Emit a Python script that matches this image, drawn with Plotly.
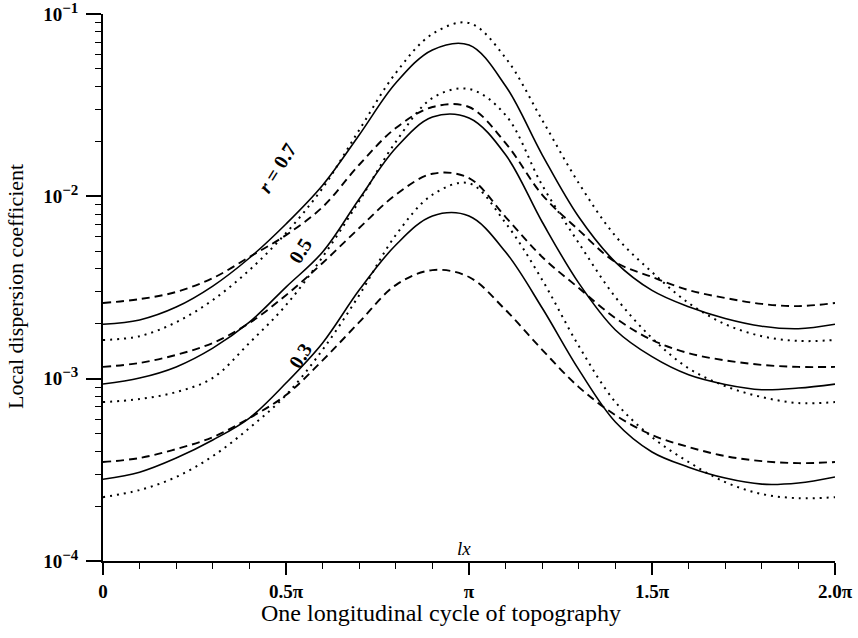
import numpy as np
import plotly.graph_objects as go

# x positions in units of pi (one longitudinal cycle)
x_pi = [0.0, 0.1, 0.2, 0.3, 0.4, 0.5, 0.6, 0.7, 0.8, 0.9, 1.0,
        1.1, 1.2, 1.3, 1.4, 1.5, 1.6, 1.7, 1.8, 1.9, 2.0]

# r = 0.7
r07_solid = [1.99e-3, 2.10e-3, 2.47e-3, 3.22e-3, 4.59e-3, 7.05e-3, 1.15e-2, 2.17e-2, 4.18e-2, 6.35e-2, 6.76e-2,
             4.03e-2, 1.69e-2, 7.70e-3, 4.36e-3, 3.05e-3, 2.48e-3, 2.14e-3, 1.94e-3, 1.88e-3, 1.99e-3]
r07_dotted = [1.63e-3, 1.71e-3, 2.04e-3, 2.70e-3, 3.94e-3, 6.29e-3, 1.11e-2, 2.31e-2, 4.75e-2, 7.77e-2, 8.93e-2,
              5.74e-2, 2.62e-2, 1.18e-2, 6.06e-3, 3.84e-3, 2.60e-3, 1.99e-3, 1.71e-3, 1.61e-3, 1.63e-3]
r07_dashed = [2.60e-3, 2.73e-3, 2.99e-3, 3.56e-3, 4.65e-3, 6.13e-3, 8.74e-3, 1.49e-2, 2.37e-2, 3.09e-2, 3.09e-2,
              1.96e-2, 1.02e-2, 6.53e-3, 4.36e-3, 3.61e-3, 3.06e-3, 2.77e-3, 2.57e-3, 2.50e-3, 2.60e-3]

# r = 0.5
r05_solid = [9.34e-4, 1.008e-3, 1.16e-3, 1.47e-3, 2.04e-3, 3.18e-3, 4.95e-3, 9.67e-3, 1.84e-2, 2.72e-2, 2.69e-2,
             1.69e-2, 7.23e-3, 3.34e-3, 1.85e-3, 1.32e-3, 1.05e-3, 9.30e-4, 8.70e-4, 8.88e-4, 9.34e-4]
r05_dotted = [7.44e-4, 7.73e-4, 8.44e-4, 1.01e-3, 1.57e-3, 2.53e-3, 4.65e-3, 9.42e-3, 1.99e-2, 3.46e-2, 3.88e-2,
              2.79e-2, 1.15e-2, 5.54e-3, 2.80e-3, 1.67e-3, 1.14e-3, 9.11e-4, 7.93e-4, 7.35e-4, 7.44e-4]
r05_dashed = [1.16e-3, 1.22e-3, 1.35e-3, 1.57e-3, 2.02e-3, 2.87e-3, 4.31e-3, 6.70e-3, 1.02e-2, 1.33e-2, 1.26e-2,
              7.70e-3, 4.65e-3, 3.14e-3, 2.15e-3, 1.63e-3, 1.38e-3, 1.26e-3, 1.19e-3, 1.16e-3, 1.16e-3]

# r = 0.3
r03_solid = [2.81e-4, 3.07e-4, 3.67e-4, 4.61e-4, 6.08e-4, 9.46e-4, 1.57e-3, 3.06e-3, 5.41e-3, 7.80e-3, 7.80e-3,
             4.95e-3, 2.44e-3, 1.12e-3, 5.78e-4, 3.96e-4, 3.27e-4, 2.85e-4, 2.64e-4, 2.68e-4, 2.89e-4]
r03_dotted = [2.24e-4, 2.45e-4, 2.89e-4, 3.76e-4, 5.36e-4, 8.13e-4, 1.44e-3, 2.87e-3, 6.13e-3, 1.02e-2, 1.18e-2,
              7.14e-3, 3.48e-3, 1.51e-3, 7.44e-4, 4.78e-4, 3.49e-4, 2.71e-4, 2.33e-4, 2.21e-4, 2.24e-4]
r03_dashed = [3.49e-4, 3.67e-4, 4.11e-4, 4.78e-4, 6.08e-4, 8.13e-4, 1.26e-3, 2.04e-3, 3.26e-3, 3.94e-3, 3.61e-3,
              2.38e-3, 1.44e-3, 8.99e-4, 6.31e-4, 4.91e-4, 4.22e-4, 3.76e-4, 3.53e-4, 3.44e-4, 3.49e-4]

x_tick_pi = [0, 0.5, 1.0, 1.5, 2.0]
x_tick_text = ["<b>0</b>", "<b>0.5π</b>", "<b>π</b>", "<b>1.5π</b>", "<b>2.0π</b>"]
y_tick_vals = [1e-4, 1e-3, 1e-2, 1e-1]
y_tick_text = ["<b>10<sup><span style='font-size:15px'>−4</span></sup></b>",
               "<b>10<sup><span style='font-size:15px'>−3</span></sup></b>",
               "<b>10<sup><span style='font-size:15px'>−2</span></sup></b>",
               "<b>10<sup><span style='font-size:15px'>−1</span></sup></b>"]
curve_labels = ["<b><i>r</i> = 0.7</b>", "<b>0.5</b>", "<b>0.3</b>"]

x = np.array(x_pi) * np.pi
FONT = "Liberation Serif"

styles = {
    "solid": dict(dash="solid", width=1.6),
    "dashed": dict(dash="8px,5px", width=1.9),
    "dotted": dict(dash="2px,5px", width=2.0),
}

series = [
    (r07_solid, "solid"), (r07_dotted, "dotted"), (r07_dashed, "dashed"),
    (r05_solid, "solid"), (r05_dotted, "dotted"), (r05_dashed, "dashed"),
    (r03_solid, "solid"), (r03_dotted, "dotted"), (r03_dashed, "dashed"),
]

fig = go.Figure()
for vals, st in series:
    fig.add_trace(go.Scatter(
        x=x, y=vals, mode="lines",
        line=dict(color="black", shape="spline", smoothing=1.0, **styles[st]),
        showlegend=False, hoverinfo="skip"))

minor_y = [m * 10.0 ** e for e in (-4, -3, -2) for m in range(2, 10)]
minor_x = [v * np.pi for v in np.round(np.arange(0, 2.01, 0.1), 2) if round(v * 10) % 5 != 0]

fig.update_layout(
    width=858, height=638,
    margin=dict(l=103, r=23, t=14, b=77),
    paper_bgcolor="white", plot_bgcolor="white",
    font=dict(family=FONT, size=19, color="black"),
    xaxis=dict(
        range=[0, 2 * np.pi], showgrid=False, zeroline=False, automargin=False,
        showline=True, linecolor="black", linewidth=1.8,
        tickvals=[v * np.pi for v in x_tick_pi], ticktext=x_tick_text,
        ticks="outside", ticklen=12, tickwidth=1.5, tickcolor="black",
        tickfont=dict(family=FONT, size=19), ticklabeloverflow="allow",
        minor=dict(tickvals=minor_x, ticks="outside", ticklen=6, tickwidth=1.3, tickcolor="black"),
    ),
    yaxis=dict(
        type="log", range=[-4, -1], showgrid=False, zeroline=False, automargin=False,
        showline=True, linecolor="black", linewidth=1.8,
        tickvals=y_tick_vals, ticktext=y_tick_text,
        ticks="outside", ticklen=15, tickwidth=1.5, tickcolor="black",
        tickfont=dict(family=FONT, size=19), ticklabeloverflow="allow",
        ticklabelstandoff=4,
        minor=dict(tickvals=minor_y, ticks="outside", ticklen=6, tickwidth=1.3, tickcolor="black"),
    ),
)

def px2paper(px, py):
    return (px - 103) / 732.0, (561 - py) / 547.0

annots = []
xp, yp = px2paper(441, 613)
annots.append(dict(text="One longitudinal cycle of topography", x=xp, y=yp, xref="paper", yref="paper",
                   showarrow=False, xanchor="center", yanchor="middle", font=dict(size=24)))
xp, yp = px2paper(15, 287)
annots.append(dict(text="Local dispersion coefficient", x=xp, y=yp, xref="paper", yref="paper",
                   showarrow=False, xanchor="center", yanchor="middle", textangle=-90, font=dict(size=22)))
xp, yp = px2paper(464, 548)
annots.append(dict(text="<i>lx</i>", x=xp, y=yp, xref="paper", yref="paper",
                   showarrow=False, xanchor="center", yanchor="middle", font=dict(size=19)))
for lab, (cx, cy) in zip(curve_labels, [(277, 168), (300, 251), (300, 356)]):
    xp, yp = px2paper(cx, cy)
    annots.append(dict(text=lab, x=xp, y=yp, xref="paper", yref="paper", showarrow=False,
                       xanchor="center", yanchor="middle", textangle=-58, font=dict(size=20)))
fig.update_layout(annotations=annots)

fig.write_html("out.html", config={"displayModeBar": False},
               post_script="document.body.style.margin='0px';document.body.style.overflow='hidden';")
